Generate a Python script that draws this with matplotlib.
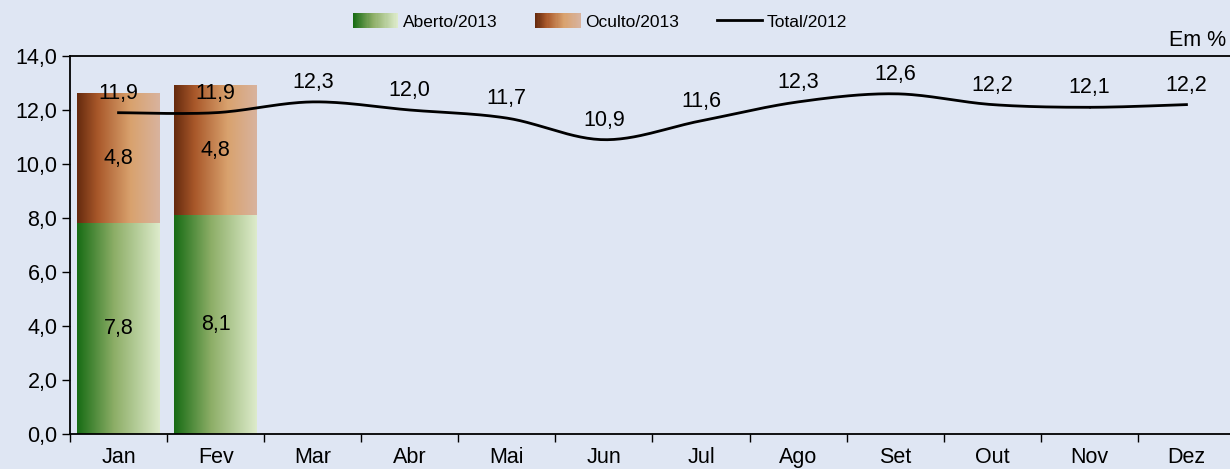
import numpy as np
import matplotlib
matplotlib.use("Agg")
import matplotlib.pyplot as plt
from matplotlib.colors import LinearSegmentedColormap
from matplotlib.patches import Rectangle
from matplotlib.lines import Line2D
from matplotlib.legend_handler import HandlerBase

plt.rcParams['font.family'] = ['Liberation Sans', 'DejaVu Sans']

months = ["Jan", "Fev", "Mar", "Abr", "Mai", "Jun", "Jul", "Ago", "Set", "Out", "Nov", "Dez"]
aberto_2013 = [7.8, 8.1]
oculto_2013 = [4.8, 4.8]
total_2012 = [11.9, 11.9, 12.3, 12.0, 11.7, 10.9, 11.6, 12.3, 12.6, 12.2, 12.1, 12.2]

bg = "#DFE6F3"
fs = 15.5
green_cm = LinearSegmentedColormap.from_list(
    "g", [(0, "#176C14"), (0.45, "#8DAE67"), (1, "#DDEBCB")])
brown_cm = LinearSegmentedColormap.from_list(
    "b", [(0, "#652A0E"), (0.25, "#A9582A"), (0.65, "#D9A26E"), (1, "#D8B39E")])


def smooth(xs, ys, n=30):
    # catmull-rom like excel's smoothed line
    xs = np.asarray(xs, float)
    ys = np.asarray(ys, float)
    px = np.concatenate([[xs[0]], xs, [xs[-1]]])
    py = np.concatenate([[ys[0]], ys, [ys[-1]]])
    ox, oy = [], []
    for i in range(1, len(px) - 2):
        t = np.linspace(0, 1, n)
        for p, out in ((px, ox), (py, oy)):
            p0, p1, p2, p3 = p[i - 1], p[i], p[i + 1], p[i + 2]
            out.extend(0.5 * (2 * p1 + (-p0 + p2) * t
                              + (2 * p0 - 5 * p1 + 4 * p2 - p3) * t ** 2
                              + (-p0 + 3 * p1 - 3 * p2 + p3) * t ** 3))
    return np.array(ox), np.array(oy)


class GradHandler(HandlerBase):
    def __init__(self, cmap):
        super().__init__()
        self.cmap = cmap

    def create_artists(self, legend, orig, xd, yd, w, h, fs, trans):
        n = 40
        arts = []
        for i in range(n):
            r = Rectangle((xd + w * i / n, yd - h * 0.1), w / n + 0.3, h * 1.2,
                          facecolor=self.cmap(i / (n - 1)), edgecolor='none',
                          transform=trans)
            arts.append(r)
        return arts


fig = plt.figure(figsize=(12.3, 4.69), dpi=100, facecolor=bg)
ax = fig.add_axes([70 / 1230, 1 - 434 / 469, 1165 / 1230, (434 - 56) / 469])
ax.set_facecolor(bg)

x = np.arange(len(months))
w = 0.85
grad = np.linspace(0, 1, 256).reshape(1, -1)
for i in range(len(aberto_2013)):
    a, o = aberto_2013[i], oculto_2013[i]
    ax.imshow(grad, cmap=green_cm, aspect='auto',
              extent=(x[i] - w / 2, x[i] + w / 2, 0, a), zorder=2)
    ax.imshow(grad, cmap=brown_cm, aspect='auto',
              extent=(x[i] - w / 2, x[i] + w / 2, a, a + o), zorder=2)
    ax.text(x[i], a / 2, f"{a:.1f}".replace('.', ','), ha='center', va='center',
            fontsize=fs, zorder=5)
    ax.text(x[i], a + o / 2, f"{o:.1f}".replace('.', ','), ha='center', va='center',
            fontsize=fs, zorder=5)

sx, sy = smooth(x, total_2012)
ax.plot(sx, sy, color='black', lw=2, zorder=4)
for xi, v in zip(x, total_2012):
    ax.annotate(f"{v:.1f}".replace('.', ','), (xi, v), xytext=(0, 14),
                textcoords='offset points', ha='center', va='center',
                fontsize=fs, zorder=5)

ax.set_xlim(-0.5, 11.5)
ax.set_ylim(0, 14)
ax.set_yticks(np.arange(0, 14.1, 2))
ax.set_yticklabels([f"{v:.1f}".replace('.', ',') for v in np.arange(0, 14.1, 2)])
ax.set_xticks(np.arange(-0.5, 11.6, 1))
ax.set_xticklabels([])
ax.set_xticks(x, minor=True)
ax.set_xticklabels(months, minor=True)
ax.tick_params(axis='x', which='minor', length=0, labelsize=fs, pad=9)
ax.tick_params(axis='x', which='major', length=6, direction='out', width=1)
ax.tick_params(axis='y', length=6, direction='out', labelsize=fs, width=1, pad=3)
for s in ['left', 'bottom', 'top']:
    ax.spines[s].set_linewidth(1.3)
ax.spines['right'].set_visible(False)
ax.spines['top'].set_color('black')

fig.text(1226 / 1230, 1 - 40 / 469, "Em %", ha='right', va='center', fontsize=fs)

h1 = Rectangle((0, 0), 1, 1)
h2 = Rectangle((0, 0), 1, 1)
h3 = Line2D([], [], color='black', lw=2)
fig.legend([h1, h2, h3], ["Aberto/2013", "Oculto/2013", "Total/2012"],
           handler_map={h1: GradHandler(green_cm), h2: GradHandler(brown_cm)},
           loc='center', bbox_to_anchor=(600 / 1230, 1 - 22 / 469), ncol=3,
           frameon=False, fontsize=12.5, handlelength=2.6, handletextpad=0.3,
           columnspacing=2.15, handleheight=0.7)

fig.savefig("out.png", dpi=100, facecolor=bg)
